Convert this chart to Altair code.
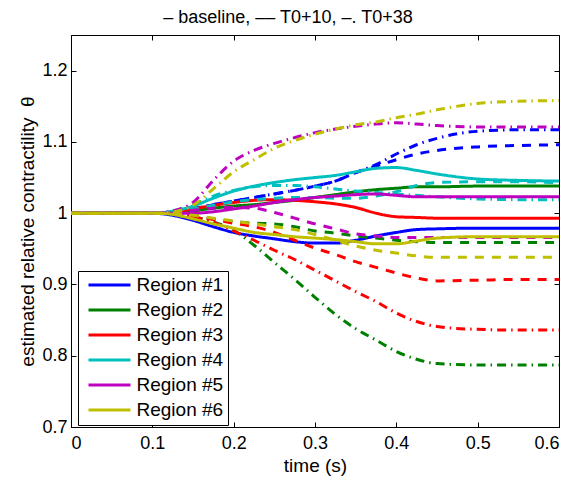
import altair as alt
import pandas as pd

# time axis (s)
t = [0, 0.05, 0.1, 0.12, 0.15, 0.175, 0.2, 0.225, 0.25, 0.275, 0.3, 0.325,
     0.35, 0.375, 0.4, 0.425, 0.45, 0.5, 0.55, 0.6]

regions = ["Region #1", "Region #2", "Region #3", "Region #4", "Region #5", "Region #6"]
conditions = ["baseline", "T0+10", "T0+38"]
colors = ["#0000ff", "#008000", "#ff0000", "#00bfbf", "#bf00bf", "#bfbf00"]

# Region #1
r1_base = [1, 1, 1, 0.998, 0.990, 0.981, 0.973, 0.968, 0.964, 0.960, 0.958, 0.958, 0.962, 0.968, 0.973, 0.977, 0.978, 0.979, 0.979, 0.979]
r1_t10 = [1, 1, 1, 1.001, 1.006, 1.012, 1.017, 1.022, 1.027, 1.032, 1.038, 1.045, 1.057, 1.066, 1.075, 1.083, 1.088, 1.093, 1.095, 1.096]
r1_t38 = [1, 1, 1, 1.001, 1.006, 1.012, 1.017, 1.022, 1.027, 1.032, 1.038, 1.045, 1.057, 1.068, 1.083, 1.096, 1.105, 1.115, 1.117, 1.117]
# Region #2
r2_base = [1, 1, 1, 1.000, 1.003, 1.007, 1.010, 1.012, 1.015, 1.018, 1.022, 1.026, 1.030, 1.033, 1.035, 1.037, 1.037, 1.038, 1.038, 1.038]
r2_t10 = [1, 1, 1, 1.000, 0.997, 0.992, 0.988, 0.986, 0.985, 0.981, 0.975, 0.972, 0.968, 0.965, 0.962, 0.960, 0.959, 0.959, 0.959, 0.959]
r2_t38 = [1, 1, 1, 1.000, 0.995, 0.988, 0.976, 0.955, 0.931, 0.907, 0.882, 0.858, 0.838, 0.822, 0.806, 0.795, 0.789, 0.787, 0.787, 0.787]
# Region #3
r3_base = [1, 1, 1, 1.001, 1.006, 1.011, 1.015, 1.018, 1.019, 1.018, 1.016, 1.013, 1.008, 1.000, 0.995, 0.994, 0.993, 0.993, 0.993, 0.993]
r3_t10 = [1, 1, 1, 1.000, 0.996, 0.991, 0.986, 0.981, 0.973, 0.962, 0.951, 0.942, 0.932, 0.924, 0.916, 0.909, 0.905, 0.906, 0.907, 0.907]
r3_t38 = [1, 1, 1, 1.000, 0.995, 0.987, 0.975, 0.962, 0.948, 0.935, 0.920, 0.905, 0.890, 0.876, 0.860, 0.848, 0.841, 0.837, 0.836, 0.836]
# Region #4
r4_base = [1, 1, 1, 1.002, 1.010, 1.021, 1.031, 1.038, 1.043, 1.047, 1.050, 1.053, 1.058, 1.063, 1.064, 1.060, 1.055, 1.048, 1.046, 1.045]
r4_t10 = [1, 1, 1, 1.001, 1.006, 1.011, 1.016, 1.019, 1.021, 1.022, 1.022, 1.021, 1.021, 1.024, 1.030, 1.039, 1.043, 1.044, 1.044, 1.043]
r4_t38 = [1, 1, 1, 1.002, 1.012, 1.024, 1.032, 1.037, 1.039, 1.039, 1.037, 1.034, 1.031, 1.029, 1.027, 1.025, 1.023, 1.020, 1.019, 1.019]
# Region #5
r5_base = [1, 1, 1, 1.000, 1.000, 1.002, 1.006, 1.010, 1.015, 1.019, 1.022, 1.024, 1.026, 1.027, 1.025, 1.023, 1.023, 1.023, 1.023, 1.023]
r5_t10 = [1, 1, 1, 1.001, 1.004, 1.007, 1.008, 1.007, 1.001, 0.993, 0.985, 0.978, 0.971, 0.968, 0.966, 0.966, 0.966, 0.966, 0.966, 0.966]
r5_t38 = [1, 1, 1, 1.002, 1.015, 1.046, 1.073, 1.088, 1.098, 1.106, 1.113, 1.118, 1.122, 1.125, 1.127, 1.125, 1.123, 1.121, 1.121, 1.121]
# Region #6
r6_base = [1, 1, 1, 0.999, 0.992, 0.985, 0.979, 0.973, 0.970, 0.967, 0.965, 0.963, 0.960, 0.957, 0.957, 0.961, 0.965, 0.967, 0.967, 0.967]
r6_t10 = [1, 1, 1, 1.000, 0.997, 0.993, 0.989, 0.985, 0.981, 0.977, 0.970, 0.962, 0.954, 0.948, 0.944, 0.940, 0.938, 0.938, 0.938, 0.938]
r6_t38 = [1, 1, 1, 1.001, 1.011, 1.034, 1.058, 1.075, 1.091, 1.102, 1.111, 1.118, 1.124, 1.128, 1.134, 1.139, 1.145, 1.154, 1.157, 1.158]

x_ticks = [0, 0.1, 0.2, 0.3, 0.4, 0.5, 0.6]
y_ticks = [0.7, 0.8, 0.9, 1.0, 1.1, 1.2]

series = [
    ("Region #1", "baseline", r1_base), ("Region #1", "T0+10", r1_t10), ("Region #1", "T0+38", r1_t38),
    ("Region #2", "baseline", r2_base), ("Region #2", "T0+10", r2_t10), ("Region #2", "T0+38", r2_t38),
    ("Region #3", "baseline", r3_base), ("Region #3", "T0+10", r3_t10), ("Region #3", "T0+38", r3_t38),
    ("Region #4", "baseline", r4_base), ("Region #4", "T0+10", r4_t10), ("Region #4", "T0+38", r4_t38),
    ("Region #5", "baseline", r5_base), ("Region #5", "T0+10", r5_t10), ("Region #5", "T0+38", r5_t38),
    ("Region #6", "baseline", r6_base), ("Region #6", "T0+10", r6_t10), ("Region #6", "T0+38", r6_t38),
]

rows = []
for i, (reg, cond, vals) in enumerate(series):
    for ti, v in zip(t, vals):
        rows.append({"t": ti, "theta": v, "region": reg, "cond": cond, "key": f"{i:02d}"})
df = pd.DataFrame(rows)

FONT = "Liberation Sans"
W, H = 488, 392

chart = alt.Chart(df).mark_line(strokeWidth=3, interpolate="monotone").encode(
    x=alt.X("t:Q",
            scale=alt.Scale(domain=[0, 0.6], nice=False, zero=False),
            axis=alt.Axis(values=x_ticks, format=".1~f", title="time (s)",
                          ticks=False, grid=True, gridDash=[5, H - 10], gridColor="black",
                          gridOpacity=1, gridWidth=1, domainColor="black",
                          labelFont=FONT, labelFontSize=18, labelColor="black", labelPadding=7,
                          titleFont=FONT, titleFontSize=19, titleFontWeight="normal",
                          titleColor="black", titlePadding=4)),
    y=alt.Y("theta:Q",
            scale=alt.Scale(domain=[0.7, 1.25], nice=False, zero=False),
            axis=alt.Axis(values=y_ticks, format=".1~f",
                          title="estimated relative contractility \u00a0θ",
                          ticks=False, grid=True, gridDash=[5, W - 10], gridColor="black",
                          gridOpacity=1, gridWidth=1, domainColor="black",
                          labelFont=FONT, labelFontSize=18, labelColor="black", labelPadding=4,
                          titleFont=FONT, titleFontSize=19, titleFontWeight="normal",
                          titleColor="black", titlePadding=4)),
    color=alt.Color("region:N",
                    scale=alt.Scale(domain=regions, range=colors),
                    legend=alt.Legend(title=None, orient="none", legendX=7, legendY=236,
                                      symbolType="M-3,0H3", symbolSize=196, symbolStrokeWidth=3,
                                      labelFont=FONT, labelFontSize=19, labelColor="black",
                                      labelOffset=17.5, symbolOffset=17.5, padding=4.5,
                                      rowPadding=5, strokeColor="black", fillColor="white",
                                      cornerRadius=0, labelLimit=300)),
    strokeDash=alt.StrokeDash("cond:N",
                              scale=alt.Scale(domain=conditions,
                                              range=[[1, 0], [9, 8], [9, 5, 1.5, 5]]),
                              legend=None),
    detail="key:N",
).properties(
    width=W, height=H,
    title=alt.TitleParams(text="– baseline, –– T0+10, –. T0+38", font=FONT, fontSize=18,
                          fontWeight="normal", color="black", anchor="middle", dx=-27, offset=8),
    autosize=alt.AutoSizeParams(type="none"),
    padding={"left": 63, "top": 27, "right": 16, "bottom": 50},
).configure_view(stroke="black", strokeWidth=1)

chart.save("out.html", embed_options={"renderer": "svg", "actions": False})
